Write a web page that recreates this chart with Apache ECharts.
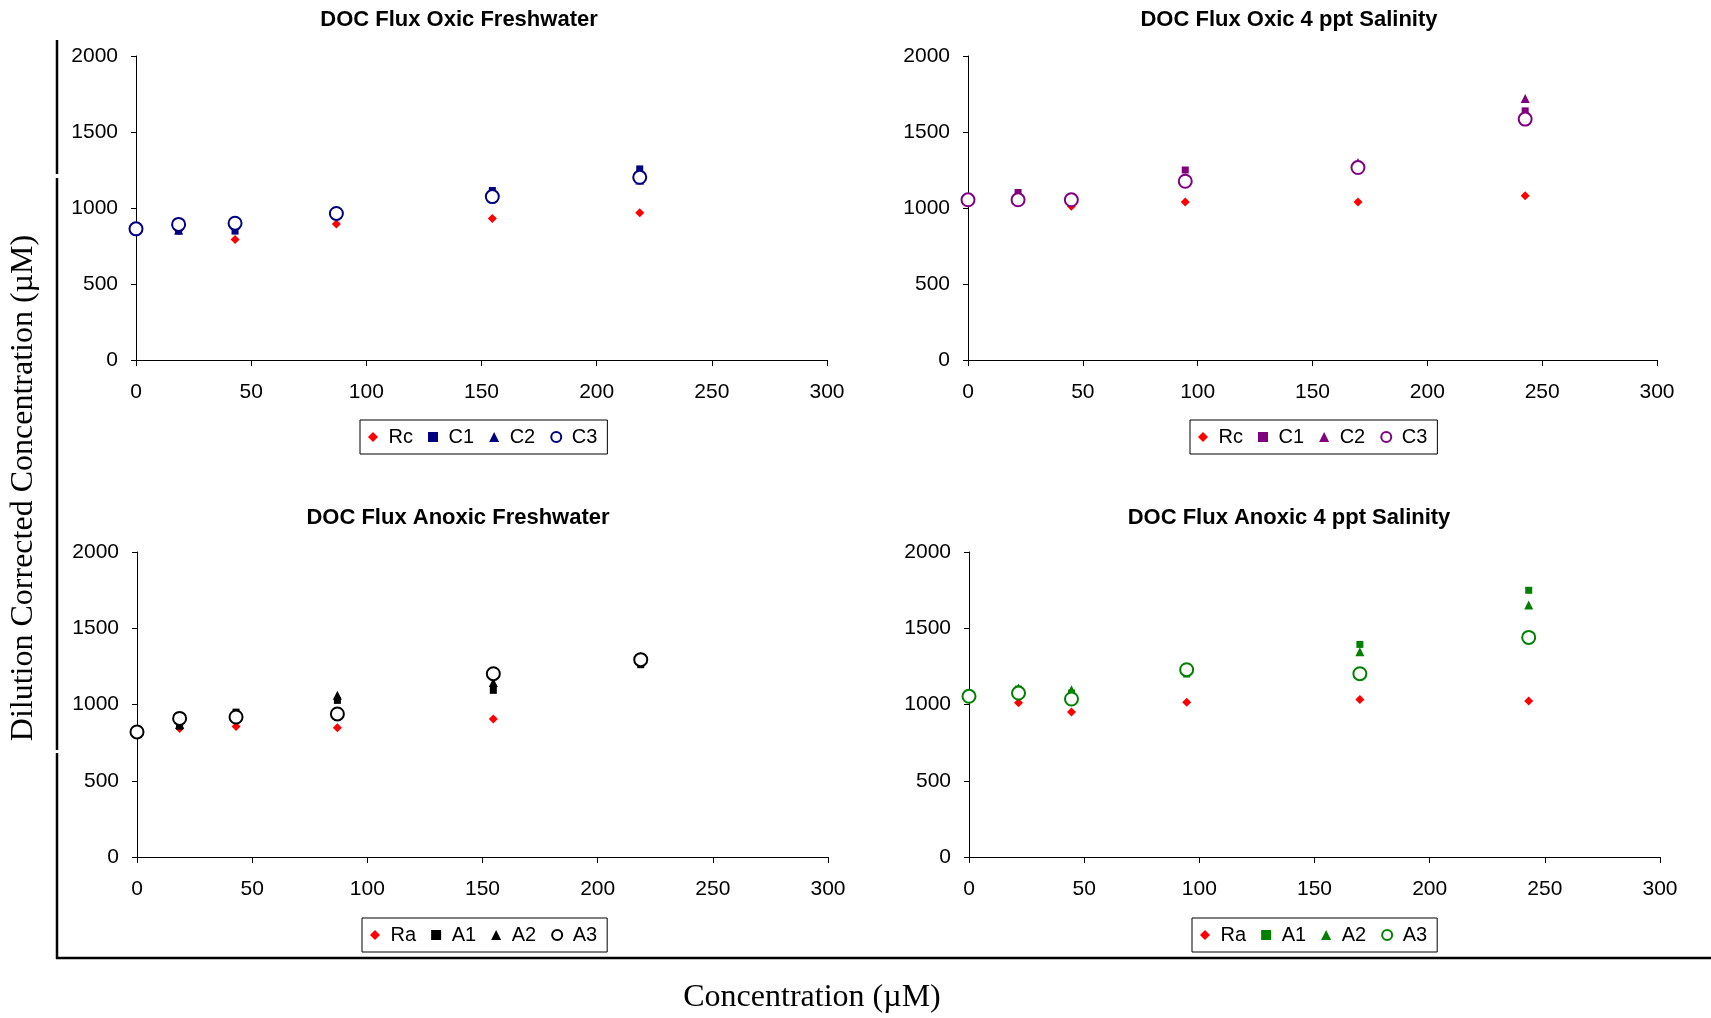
<!DOCTYPE html>
<html>
<head>
<meta charset="utf-8">
<script src="https://cdn.jsdelivr.net/npm/echarts@6.0.0/dist/echarts.min.js"></script>
<style>
html,body{margin:0;padding:0;background:#fff;}
#chart{width:1711px;height:1018px;}
</style>
</head>
<body>
<div id="chart"></div>
<script>
// ---- Data ----
const titles = ['DOC Flux Oxic Freshwater', 'DOC Flux Oxic 4 ppt Salinity',
                'DOC Flux Anoxic Freshwater', 'DOC Flux Anoxic 4 ppt Salinity'];
const xTickValues = [0, 50, 100, 150, 200, 250, 300];
const yTickValues = [0, 500, 1000, 1500, 2000];

// Panel 1: Oxic Freshwater
const oxicFwX  = [0, 18.5, 43, 87, 154.7, 218.7];
const oxicFwRc = [860, 852, 793, 894, 931, 968];
const oxicFwC1 = [863, 848, 848, 964, 1115, 1257];
const oxicFwC2 = [863, 855, 885, 960, 1090, 1185];
const oxicFwC3 = [863, 892, 900, 964, 1075, 1202];

// Panel 2: Oxic 4 ppt Salinity
const oxicSalX  = [0, 21.8, 45, 94.6, 169.8, 242.6];
const oxicSalRc = [1050, 1050, 1012, 1040, 1040, 1080];
const oxicSalC1 = [1054, 1102, 1054, 1250, 1266, 1639];
const oxicSalC2 = [1054, 1080, 1054, 1200, 1300, 1720];
const oxicSalC3 = [1054, 1054, 1054, 1176, 1266, 1585];

// Panel 3: Anoxic Freshwater
const anoxFwX  = [0, 18.5, 43, 87, 154.7, 218.7];
const anoxFwRa = [818, 842, 855, 848, 905, null];
const anoxFwA1 = [820, 857, 950, 1027, 1093, 1261];
const anoxFwA2 = [820, 870, 940, 1060, 1145, 1316];
const anoxFwA3 = [820, 909, 918, 938, 1202, 1294];

// Panel 4: Anoxic 4 ppt Salinity
const anoxSalX  = [0, 21.5, 44.5, 94.5, 169.7, 243];
const anoxSalRa = [1050, 1012, 951, 1014, 1032, 1023];
const anoxSalA1 = [1054, 1101, 1075, 1200, 1394, 1749];
const anoxSalA2 = [1054, 1108, 1097, 1228, 1346, 1652];
const anoxSalA3 = [1054, 1075, 1036, 1228, 1202, 1440];

const seriesNamesTop = ['Rc', 'C1', 'C2', 'C3'];
const seriesNamesBottom = ['Ra', 'A1', 'A2', 'A3'];

// ---- Build chart ----
const panels = [
  {x: oxicFwX,  ys: [oxicFwRc, oxicFwC1, oxicFwC2, oxicFwC3], names: seriesNamesTop, color: '#000080'},
  {x: oxicSalX, ys: [oxicSalRc, oxicSalC1, oxicSalC2, oxicSalC3], names: seriesNamesTop, color: '#800080'},
  {x: anoxFwX,  ys: [anoxFwRa, anoxFwA1, anoxFwA2, anoxFwA3], names: seriesNamesBottom, color: '#000000'},
  {x: anoxSalX, ys: [anoxSalRa, anoxSalA1, anoxSalA2, anoxSalA3], names: seriesNamesBottom, color: '#008000'}
];
const gridBoxes = [
  {left: 136, top: 56, width: 691, height: 304},
  {left: 968, top: 56, width: 689, height: 304},
  {left: 137, top: 552, width: 691, height: 305},
  {left: 969, top: 552, width: 691, height: 305}
];
const legendBoxes = [
  {left: 360, top: 420}, {left: 1190, top: 420},
  {left: 362, top: 918}, {left: 1192, top: 918}
];
const titlePos = [[459, 20], [1289, 20], [458, 518], [1289, 518]];
const symbols = ['diamond', 'rect', 'triangle', 'emptyCircle'];
const symSizes = [9, 7, 9, 13];
const FONT = 'Liberation Sans, Arial, sans-serif';
const SERIF = 'Liberation Serif, Times New Roman, serif';

const grid = [], xAxis = [], yAxis = [], series = [], legend = [], graphic = [];

panels.forEach((p, i) => {
  grid.push(Object.assign({containLabel: false, outerBoundsMode: 'none'}, gridBoxes[i]));
  xAxis.push({
    type: 'value', gridIndex: i, min: xTickValues[0], max: xTickValues[xTickValues.length - 1], interval: 50,
    axisLine: {show: true, onZero: false, lineStyle: {color: '#000', width: 1}},
    axisTick: {show: true, inside: false, length: 6, lineStyle: {color: '#000'}},
    axisLabel: {color: '#000', fontSize: 21, fontFamily: FONT, margin: 22, formatter: (v) => String(v)},
    splitLine: {show: false}
  });
  yAxis.push({
    type: 'value', gridIndex: i, min: yTickValues[0], max: yTickValues[yTickValues.length - 1], interval: 500,
    axisLine: {show: true, onZero: false, lineStyle: {color: '#000', width: 1}},
    axisTick: {show: true, inside: false, length: 5, lineStyle: {color: '#000'}},
    axisLabel: {color: '#000', fontSize: 21, fontFamily: FONT, margin: 18, formatter: (v) => String(v)},
    splitLine: {show: false}
  });
  const legendData = [];
  p.ys.forEach((ys, k) => {
    const name = p.names[k] + '|' + i;
    const color = k === 0 ? '#FF0000' : p.color;
    const data = [];
    p.x.forEach((xv, j) => { if (ys[j] != null) data.push([xv, ys[j]]); });
    series.push({
      name: name, type: 'scatter', xAxisIndex: i, yAxisIndex: i,
      symbol: symbols[k], symbolSize: symSizes[k],
      itemStyle: k === 3 ? {color: color, borderColor: color, borderWidth: 1.8, opacity: 1}
                         : {color: color, opacity: 1},
      emphasis: {disabled: true},
      data: data, z: 2 + k
    });
    legendData.push({name: name, icon: symbols[k],
      itemStyle: k === 3 ? {color: color, borderColor: color, borderWidth: 1.6, opacity: 1}
                         : {color: color, opacity: 1}});
  });
  legend.push(Object.assign({
    data: legendData, orient: 'horizontal',
    backgroundColor: '#fff', borderColor: '#000', borderWidth: 1,
    padding: [7, 10, 7, 8], itemGap: 15, itemWidth: 10, itemHeight: 10,
    textStyle: {color: '#000', fontSize: 20, fontFamily: FONT},
    formatter: (n) => ' ' + n.split('|')[0],
    selectedMode: false
  }, legendBoxes[i]));
  graphic.push({
    type: 'text', x: titlePos[i][0], y: titlePos[i][1],
    style: {text: titles[i], fill: '#000', font: 'bold 22px ' + FONT, align: 'center', verticalAlign: 'middle'}
  });
});

// Outer frame lines (L shape) and shared axis titles
const frameLine = (x1, y1, x2, y2) => ({type: 'line', shape: {x1, y1, x2, y2}, style: {stroke: '#000', lineWidth: 2.5}});
graphic.push(frameLine(57, 40, 57, 174));
graphic.push(frameLine(57, 178, 57, 750));
graphic.push(frameLine(57, 753, 57, 959));
graphic.push(frameLine(56, 958, 1711, 958));
graphic.push({
  type: 'text', x: 24, y: 488, rotation: Math.PI / 2,
  style: {text: 'Dilution Corrected Concentration (\u00B5M)', fill: '#000', font: '32px ' + SERIF, align: 'center', verticalAlign: 'middle'}
});
graphic.push({
  type: 'text', x: 812, y: 998,
  style: {text: 'Concentration (\u00B5M)', fill: '#000', font: '32px ' + SERIF, align: 'center', verticalAlign: 'middle'}
});

const chart = echarts.init(document.getElementById('chart'), null, {renderer: 'canvas'});
chart.setOption({
  animation: false,
  backgroundColor: '#fff',
  grid, xAxis, yAxis, series, legend, graphic
});
</script>
</body>
</html>
